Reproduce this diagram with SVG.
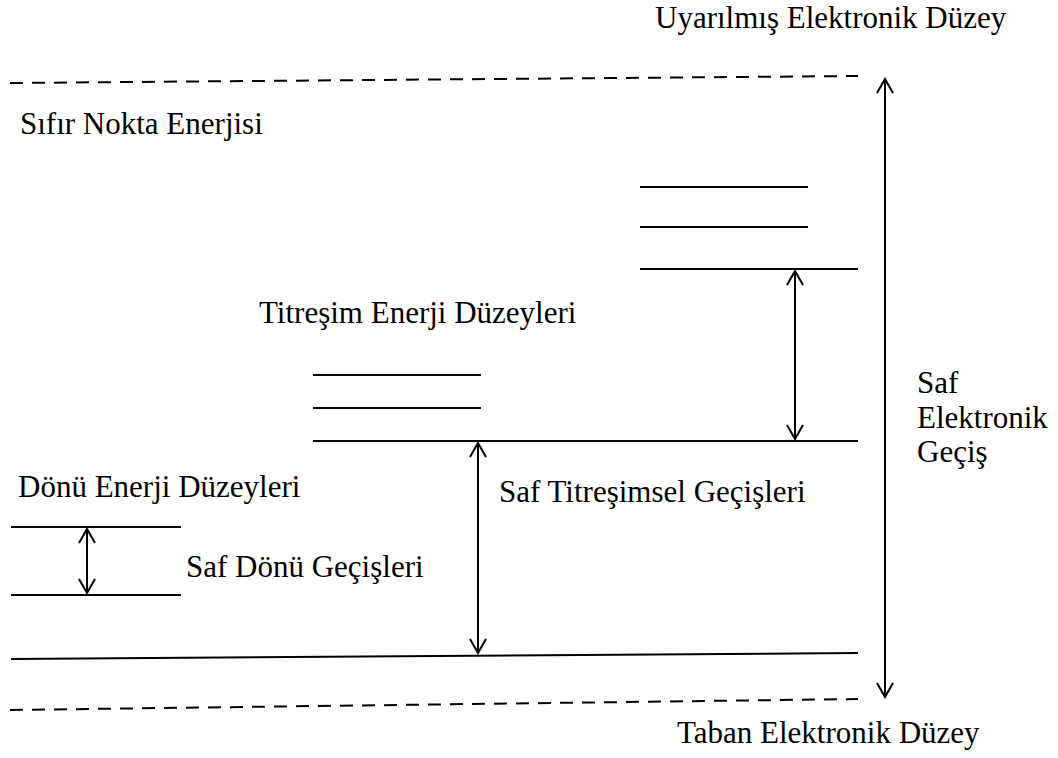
<svg xmlns="http://www.w3.org/2000/svg" width="1058" height="758" viewBox="0 0 1058 758">
<defs>
<style>
text{font-family:'Liberation Serif','Times New Roman',Tinos,'DejaVu Serif',serif;font-size:31px;fill:#000}
.l{stroke:#000;stroke-width:2;fill:none}
.d{stroke:#000;stroke-width:2;fill:none;stroke-dasharray:13 9}
.a{stroke:#000;stroke-width:2;fill:none;marker-start:url(#ah);marker-end:url(#ah)}
</style>
<marker id="ah" viewBox="0 0 20 20" refX="18" refY="10" markerWidth="20" markerHeight="20" markerUnits="userSpaceOnUse" orient="auto-start-reverse">
<path d="M4 2 L18 10 L4 18" fill="none" stroke="#000" stroke-width="2"/>
</marker>
</defs>
<rect width="1058" height="758" fill="#fff"/>
<g id="excited-level" font-family="Liberation Serif, serif">
<line class="d" x1="10" y1="83" x2="858" y2="76"/>
<text x="655" y="28">Uyarılmış Elektronik Düzey</text>
<text x="20" y="134">Sıfır Nokta Enerjisi</text>
</g>
<g id="upper-vib-levels">
<line class="l" x1="640" y1="187" x2="808" y2="187"/>
<line class="l" x1="640" y1="227" x2="808" y2="227"/>
<line class="l" x1="640" y1="269" x2="858" y2="269"/>
</g>
<g id="mid-vib-levels">
<line class="l" x1="313" y1="375" x2="481" y2="375"/>
<line class="l" x1="313" y1="408" x2="481" y2="408"/>
<line class="l" x1="313" y1="441" x2="858" y2="441"/>
<text x="259" y="323">Titreşim Enerji Düzeyleri</text>
</g>
<g id="rot-levels">
<line class="l" x1="11" y1="527" x2="181" y2="527"/>
<line class="l" x1="11" y1="595" x2="181" y2="595"/>
<text x="18" y="497">Dönü Enerji Düzeyleri</text>
</g>
<g id="ground-level">
<line class="l" x1="11" y1="659" x2="858" y2="653"/>
<line class="d" x1="10" y1="710" x2="858" y2="699"/>
<text x="677" y="743">Taban Elektronik Düzey</text>
</g>
<g id="labels">
<text x="917" y="393">Saf</text>
<text x="917" y="428">Elektronik</text>
<text x="917" y="462">Geçiş</text>
<text x="499" y="502">Saf Titreşimsel Geçişleri</text>
<text x="186" y="577">Saf Dönü Geçişleri</text>
</g>
<g id="connectors">
<line class="a" x1="885" y1="697" x2="885" y2="79"/>
<line class="a" x1="795" y1="439" x2="795" y2="271"/>
<line class="a" x1="478" y1="653" x2="478" y2="443"/>
<line class="a" x1="87" y1="593" x2="87" y2="529"/>
</g>
</svg>
